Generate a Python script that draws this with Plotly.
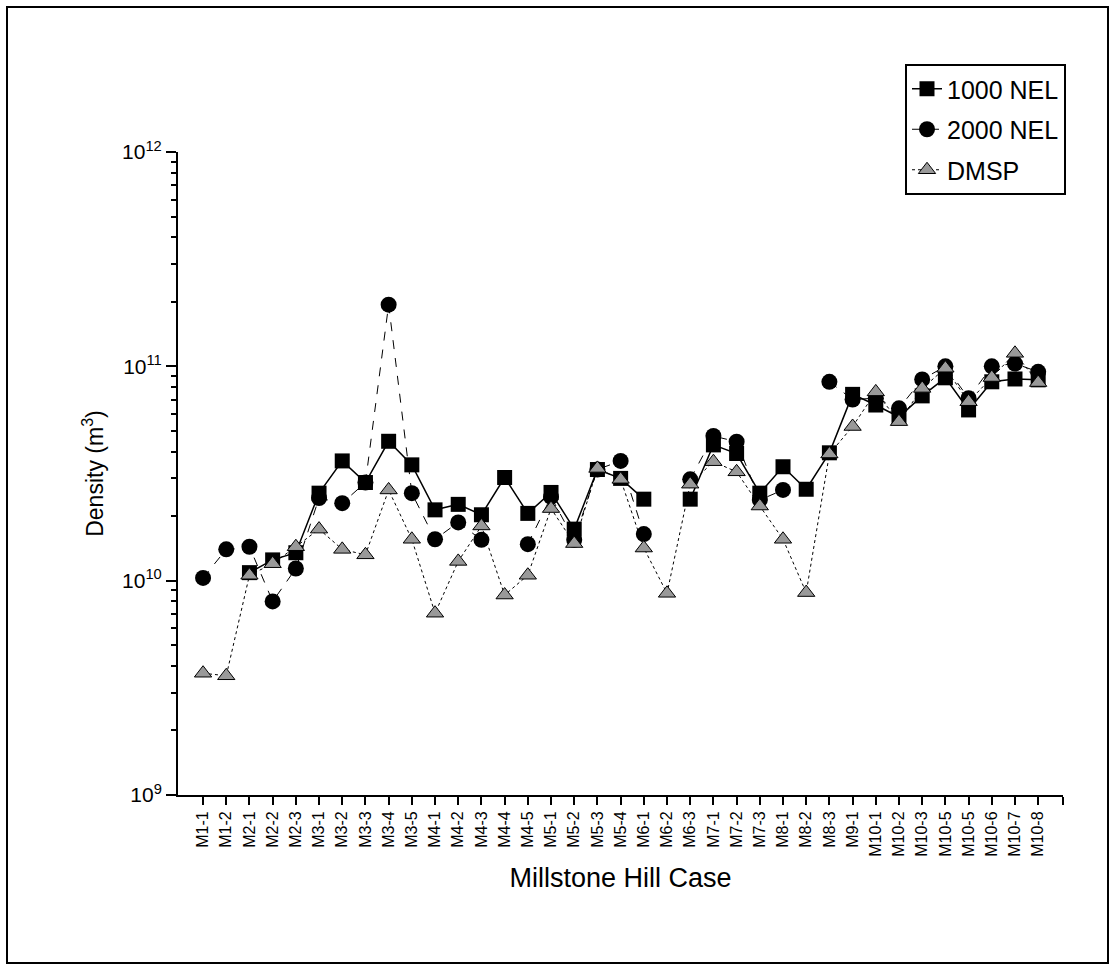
import plotly.graph_objects as go

cases = ["M1-1", "M1-2", "M2-1", "M2-2", "M2-3", "M3-1", "M3-2", "M3-3", "M3-4", "M3-5",
         "M4-1", "M4-2", "M4-3", "M4-4", "M4-5", "M5-1", "M5-2", "M5-3", "M5-4", "M6-1",
         "M6-2", "M6-3", "M7-1", "M7-2", "M7-3", "M8-1", "M8-2", "M8-3", "M9-1", "M10-1",
         "M10-2", "M10-3", "M10-5", "M10-5", "M10-6", "M10-7", "M10-8"]

nel_1000 = [None, None, 1.09e10, 1.25e10, 1.35e10, 2.56e10, 3.62e10, 2.87e10, 4.47e10, 3.47e10,
            2.14e10, 2.27e10, 2.03e10, 3.03e10, 2.06e10, 2.58e10, 1.74e10, 3.30e10, 3.00e10, 2.40e10,
            None, 2.40e10, 4.30e10, 3.92e10, 2.56e10, 3.40e10, 2.67e10, 3.95e10, 7.40e10, 6.60e10,
            5.80e10, 7.28e10, 8.84e10, 6.26e10, 8.47e10, 8.73e10, 8.65e10]

nel_2000 = [1.03e10, 1.40e10, 1.44e10, 8.0e9, 1.14e10, 2.43e10, 2.30e10, 2.87e10, 1.94e11, 2.56e10,
            1.56e10, 1.87e10, 1.55e10, None, 1.48e10, 2.46e10, 1.55e10, 3.30e10, 3.62e10, 1.65e10,
            None, 2.97e10, 4.73e10, 4.45e10, 2.38e10, 2.65e10, None, 8.47e10, 7.00e10, 7.10e10,
            6.37e10, 8.69e10, 1.00e11, 7.10e10, 1.00e11, 1.03e11, 9.43e10]

dmsp = [3.7e9, 3.6e9, 1.06e10, 1.20e10, 1.44e10, 1.74e10, 1.40e10, 1.32e10, 2.65e10, 1.56e10,
        7.05e9, 1.23e10, 1.80e10, 8.57e9, 1.06e10, 2.17e10, 1.49e10, 3.34e10, 2.97e10, 1.42e10,
        8.73e9, 2.82e10, 3.59e10, 3.22e10, 2.23e10, 1.56e10, 8.8e9, 3.90e10, 5.24e10, 7.60e10,
        5.52e10, 7.89e10, 9.80e10, 6.84e10, 8.87e10, 1.15e11, 8.40e10]

y_major = [1e9, 1e10, 1e11, 1e12]
y_major_text = ["10<sup>9</sup>", "10<sup>10</sup>", "10<sup>11</sup>", "10<sup>12</sup>"]

FONT = "Liberation Sans, Arial, Helvetica, sans-serif"
xs = list(range(len(cases)))

fig = go.Figure()
fig.add_trace(go.Scatter(
    x=xs, y=nel_1000, name="1000 NEL", mode="lines+markers", legendgroup="a",
    line=dict(color="black", width=1.5),
    marker=dict(symbol="square", size=15, color="black", line=dict(color="black", width=0)),
))
fig.add_trace(go.Scatter(
    x=xs, y=nel_2000, name="2000 NEL", mode="lines+markers", legendgroup="b",
    line=dict(color="black", width=1, dash="dash"),
    marker=dict(symbol="circle", size=16, color="black", line=dict(color="black", width=0)),
))
fig.add_trace(go.Scatter(
    x=xs, y=dmsp, name="DMSP", mode="lines+markers", legendgroup="c",
    line=dict(color="black", width=1, dash="dot"),
    marker=dict(symbol="triangle-up", size=15, color="#999999", line=dict(color="black", width=1)),
))

xmin, xmax = -1.08, 37.07
minor_vals = [m * 10 ** e for e in range(9, 12) for m in range(2, 10)]

fig.update_layout(
    width=1115, height=971,
    margin=dict(l=178, r=52, t=152, b=176, autoexpand=False),
    paper_bgcolor="white", plot_bgcolor="white",
    font=dict(family=FONT, color="black"),
    showlegend=True,
    legend=dict(
        x=(1066 - 178) / 885, y=(795 - 64) / 643, xanchor="right", yanchor="top",
        bordercolor="black", borderwidth=2, bgcolor="white",
        font=dict(family=FONT, size=25, color="black"),
        tracegroupgap=5, itemwidth=30,
    ),
    xaxis=dict(
        range=[xmin, xmax], showgrid=False, zeroline=False,
        showline=True, linecolor="black", linewidth=2,
        tickmode="array", tickvals=xs + [xmax], ticktext=cases + [""],
        ticks="outside", ticklen=8, tickwidth=2, tickcolor="black",
        tickangle=-90, tickfont=dict(family=FONT, size=16, color="black"),
        title=dict(text="Millstone Hill Case", font=dict(family=FONT, size=27, color="black"), standoff=12),
    ),
    yaxis=dict(
        type="log", range=[9, 12], showgrid=False, zeroline=False,
        showline=True, linecolor="black", linewidth=2,
        tickmode="array", tickvals=y_major, ticktext=y_major_text,
        ticks="outside", ticklen=10, tickwidth=2, tickcolor="black",
        tickfont=dict(family=FONT, size=21, color="black"),
        minor=dict(tickmode="array", tickvals=minor_vals, ticks="outside", ticklen=5,
                   tickwidth=1.5, tickcolor="black", showgrid=False),
        title=dict(text="Density (m<sup>3</sup>)", font=dict(family=FONT, size=23, color="black"), standoff=12),
    ),
)

# outer frame of the figure
fig.add_shape(type="rect", xref="paper", yref="paper",
              x0=(7 - 178) / 885, x1=(1108 - 178) / 885,
              y0=(795 - 963) / 643, y1=(795 - 7) / 643,
              line=dict(color="black", width=2), fillcolor="rgba(0,0,0,0)", layer="below")

fig.write_html("out.html")
